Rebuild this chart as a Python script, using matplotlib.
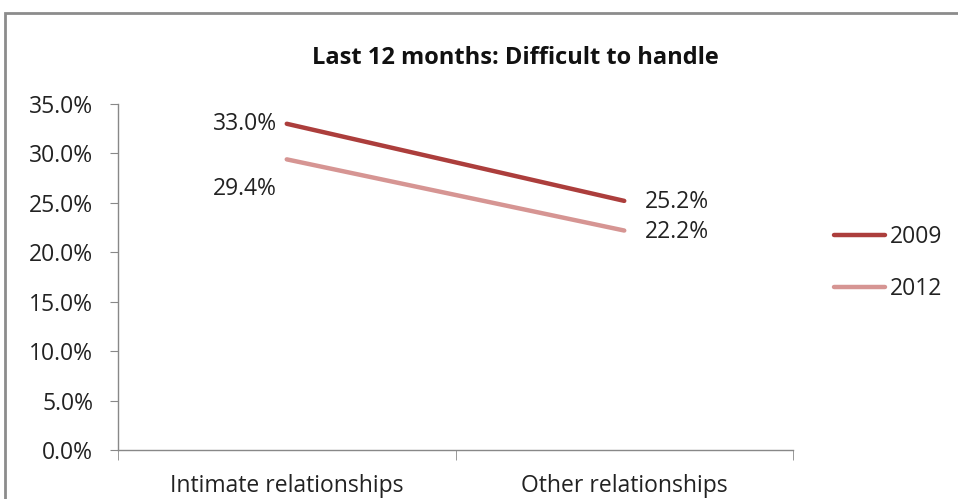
import matplotlib
matplotlib.use("Agg")
import matplotlib.pyplot as plt
from matplotlib.patches import Rectangle
from matplotlib.ticker import FuncFormatter, FixedLocator

plt.rcParams['font.family'] = ['Open Sans', 'DejaVu Sans']

categories = ["Intimate relationships", "Other relationships"]
years = ["2009", "2012"]
values_2009 = [33.0, 25.2]
values_2012 = [29.4, 22.2]
colors = ["#AC3E3C", "#D69593"]

FS = 16.5
TXT = '#222222'

fig = plt.figure(figsize=(9.58, 4.99), dpi=100)
ax = fig.add_axes([118 / 958, 49 / 499, 675 / 958, 346 / 499])

x = list(range(len(categories)))
ax.plot(x, values_2009, color=colors[0], lw=3.2, solid_capstyle='round', label=years[0])
ax.plot(x, values_2012, color=colors[1], lw=3.2, solid_capstyle='round', label=years[1])

# data labels
ax.annotate(f"{values_2009[0]:.1f}%", (x[0], values_2009[0]), xytext=(-7, 0),
            textcoords='offset points', ha='right', va='center', fontsize=FS, color=TXT)
ax.annotate(f"{values_2012[0]:.1f}%", (x[0], values_2012[0]), xytext=(-7, -21),
            textcoords='offset points', ha='right', va='center', fontsize=FS, color=TXT)
ax.annotate(f"{values_2009[1]:.1f}%", (x[1], values_2009[1]), xytext=(15, -1),
            textcoords='offset points', ha='left', va='center', fontsize=FS, color=TXT)
ax.annotate(f"{values_2012[1]:.1f}%", (x[1], values_2012[1]), xytext=(15, -1),
            textcoords='offset points', ha='left', va='center', fontsize=FS, color=TXT)

ax.set_xlim(-0.5, len(categories) - 0.5)
ax.set_ylim(0, 35)
ax.set_yticks([0, 5, 10, 15, 20, 25, 30, 35])
ax.yaxis.set_major_formatter(FuncFormatter(lambda v, p: f"{v:.1f}%"))
ax.set_xticks(x)
ax.set_xticklabels(categories)
ax.xaxis.set_minor_locator(FixedLocator([-0.5, 0.5, 1.5]))
ax.tick_params(axis='x', which='major', length=0, pad=17, labelsize=FS, labelcolor=TXT)
ax.tick_params(axis='x', which='minor', length=7, color='#888888', direction='out')
ax.tick_params(axis='y', length=6, color='#888888', labelsize=FS, labelcolor=TXT, pad=12)

for s in ['top', 'right']:
    ax.spines[s].set_visible(False)
for s in ['left', 'bottom']:
    ax.spines[s].set_color('#888888')
    ax.spines[s].set_linewidth(1)

fig.text(515 / 958, 1 - 58 / 499, "Last 12 months: Difficult to handle", ha='center', va='center',
         fontsize=17, fontweight='bold', color='#111111')

leg = fig.legend(loc='center left', bbox_to_anchor=(813 / 958, 1 - 263 / 499), frameon=False,
                 fontsize=FS, handlelength=2.25, handletextpad=0.2, labelspacing=1.2,
                 labelcolor=TXT)

# outer chart frame
fig.add_artist(Rectangle((5 / 958, -0.1), 1.2, 1.1 - 13 / 499, transform=fig.transFigure,
                         fill=False, edgecolor='#8c8c8c', lw=2, clip_on=False))

fig.savefig("out.png", dpi=100)
